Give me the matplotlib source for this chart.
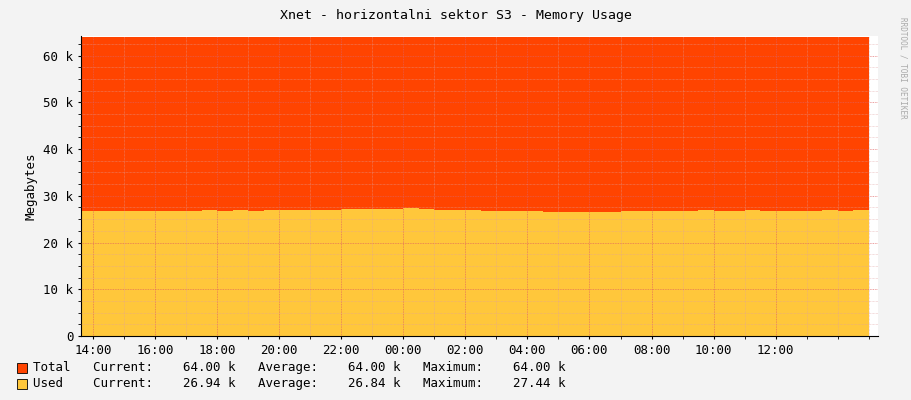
import numpy as np
import matplotlib.pyplot as plt

# hours after 14:00, sampled every 30 min
hours = [h * 0.5 for h in range(-1, 51)]
used_k = [26.7, 26.7, 26.7, 26.7, 26.7, 26.8, 26.8, 26.8, 26.9, 26.8, 26.9, 26.8,
          26.9, 27.0, 26.9, 26.9, 27.0, 27.1, 27.2, 27.1, 27.2, 27.3, 27.1, 27.0,
          26.9, 26.9, 26.8, 26.8, 26.7, 26.7, 26.6, 26.6, 26.5, 26.5, 26.6, 26.7,
          26.7, 26.7, 26.8, 26.8, 26.9, 26.8, 26.8, 26.9, 26.8, 26.8, 26.7, 26.8,
          27.0, 26.8, 26.9, 26.94]
total_k = [64.0] * len(hours)
tick_labels = ['14:00', '16:00', '18:00', '20:00', '22:00', '00:00',
               '02:00', '04:00', '06:00', '08:00', '10:00', '12:00']

plt.rcParams['font.family'] = 'DejaVu Sans Mono'
fig = plt.figure(figsize=(9.11, 4.0), dpi=100, facecolor='#F3F3F3')
ax = fig.add_axes([81 / 911, 64 / 400, 797 / 911, 300 / 400])
ax.set_facecolor('white')

ax.fill_between(hours, 0, total_k, color='#FF4400', lw=0, step='post')
ax.fill_between(hours, 0, used_k, color='#FFC73B', lw=0, step='post')

ax.set_xlim(-0.39, 25.3)
ax.set_ylim(0, 64.2)
ax.set_xticks(range(0, 24, 2))
ax.set_xticklabels(tick_labels, fontsize=9)
ax.set_xticks(range(0, 26), minor=True)
ax.set_yticks(range(0, 70, 10))
ax.set_yticklabels(['0'] + [f'{v} k' for v in range(10, 70, 10)], fontsize=9)
ax.set_yticks(np.arange(0, 65, 2.5), minor=True)
ax.grid(which='minor', color='#E0A0A0', lw=0.5, ls=(0, (1, 1)), alpha=0.7)
ax.grid(which='major', color='#E06060', lw=0.6, ls=(0, (1, 1)), alpha=0.8)
ax.set_axisbelow(False)
ax.tick_params(which='both', length=2, colors='black')
for s in ['top', 'right']:
    ax.spines[s].set_visible(False)
ax.set_ylabel('Megabytes', fontsize=9)

fig.text(0.5, 385 / 400, 'Xnet - horizontalni sektor S3 - Memory Usage',
         ha='center', va='center', fontsize=9.5)
fig.text(903 / 911, 0.83, 'RRDTOOL / TOBI OETIKER', rotation=270,
         ha='center', va='center', fontsize=5.5, color='#AAAAAA')

legend = [('#FF4400', 'Total   Current:    64.00 k   Average:    64.00 k   Maximum:    64.00 k', 368),
          ('#FFC73B', 'Used    Current:    26.94 k   Average:    26.84 k   Maximum:    27.44 k', 384)]
for color, text, y in legend:
    fig.patches.append(plt.Rectangle((17 / 911, (400 - y - 5) / 400), 10 / 911, 10 / 400,
                                     transform=fig.transFigure, facecolor=color,
                                     edgecolor='black', lw=0.6))
    fig.text(33 / 911, (400 - y) / 400, text, va='center', fontsize=9)

fig.savefig('out.png', dpi=100, facecolor=fig.get_facecolor())
